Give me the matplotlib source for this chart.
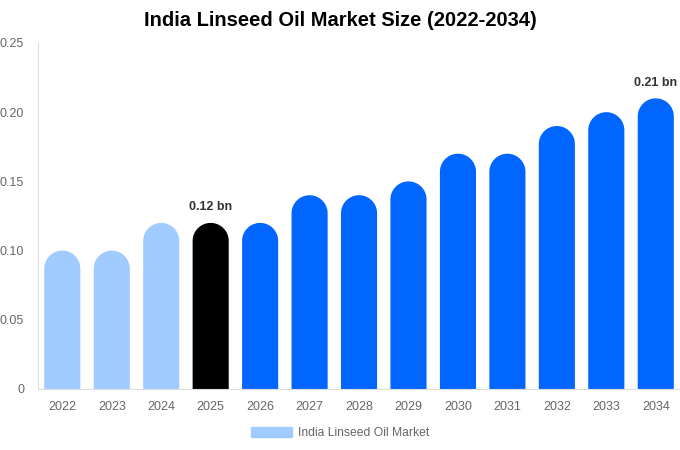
import matplotlib
matplotlib.use("Agg")
import numpy as np
import matplotlib.pyplot as plt
from matplotlib.patches import Polygon, Patch

plt.rcParams['font.family'] = ['Liberation Sans', 'DejaVu Sans']

years = ['2022', '2023', '2024', '2025', '2026', '2027', '2028',
         '2029', '2030', '2031', '2032', '2033', '2034']
values = [0.10, 0.10, 0.12, 0.12, 0.12, 0.14, 0.14,
          0.15, 0.17, 0.17, 0.19, 0.20, 0.21]
labels = {3: '0.12 bn', 12: '0.21 bn'}

light = '#a0cbff'
dark = '#000000'
blue = '#0066ff'
colors = [light] * 3 + [dark] + [blue] * 9

fig = plt.figure(figsize=(6.8, 4.5), dpi=100)
ax = fig.add_axes([0.056, 0.1356, 0.944, 0.7689])
ax.set_xlim(-0.49, len(years) - 0.51)
ax.set_ylim(0, 0.25)

w = 0.73
# round cap: half-width in x units, converted to y units via the axes scale
fig.canvas.draw()
p0 = ax.transData.transform((0, 0))
p1 = ax.transData.transform((1, 1))
ry = (w / 2) * (p1[0] - p0[0]) / (p1[1] - p0[1])
theta = np.linspace(0, np.pi, 40)

for i, (v, c) in enumerate(zip(values, colors)):
    cy = v - ry
    arc_x = i + (w / 2) * np.cos(theta)
    arc_y = cy + ry * np.sin(theta)
    xs = np.concatenate([[i + w / 2], arc_x, [i - w / 2]])
    ys = np.concatenate([[0], arc_y, [0]])
    ax.add_patch(Polygon(np.column_stack([xs, ys]), closed=True,
                         facecolor=c, edgecolor='none'))
    if i in labels:
        ax.text(i, v + 0.007, labels[i], ha='center', va='bottom',
                fontsize=9, fontweight='bold', color='#333333')

ax.set_xticks(range(len(years)))
ax.set_xticklabels(years)
yt = [0, 0.05, 0.10, 0.15, 0.20, 0.25]
ax.set_yticks(yt)
ax.set_yticklabels(['0'] + ['%.2f' % t for t in yt[1:]])
ax.tick_params(length=0, labelsize=9, colors='#666666')
ax.tick_params(axis='x', pad=9)
ax.tick_params(axis='y', pad=10)

for s in ['top', 'right']:
    ax.spines[s].set_visible(False)
for s in ['left', 'bottom']:
    ax.spines[s].set_color('#dddddd')
    ax.spines[s].set_linewidth(0.8)

fig.suptitle('India Linseed Oil Market Size (2022-2034)', x=0.5, y=0.975,
             fontsize=14.5, fontweight='bold', color='#000000')

fig.legend(handles=[Patch(color=light, label='India Linseed Oil Market')],
           loc='center', bbox_to_anchor=(0.5, 0.038), frameon=False,
           fontsize=8.7, labelcolor='#666666', handlelength=3.4,
           handleheight=0.9, handletextpad=0.5)

fig.savefig('out.png', dpi=100)
